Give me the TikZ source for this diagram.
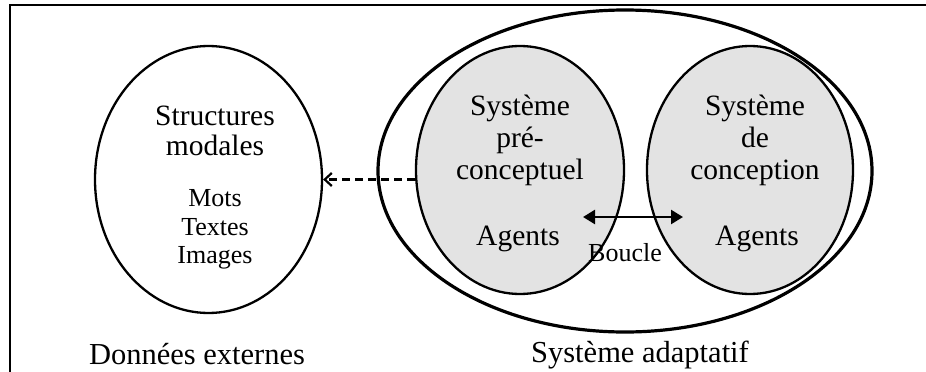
\documentclass[tikz,border=0pt]{standalone}
\usepackage{fontspec}
\setmainfont{Liberation Serif}
\usetikzlibrary{shapes.geometric,arrows.meta}
\definecolor{sysgrey}{RGB}{227,227,227}
\begin{document}
\begin{tikzpicture}[x=1pt,y=-1pt,
  oval/.style={ellipse,draw,inner sep=0pt,line width=2.3pt},
  sysoval/.style={oval,fill=sysgrey},
  lbl/.style={anchor=base,inner sep=0pt,font=\fontsize{29.5}{33}\selectfont},
  smalllbl/.style={lbl,font=\fontsize{26}{30}\selectfont},
  biglbl/.style={lbl,font=\fontsize{30.5}{34}\selectfont},
  filltip/.tip={Triangle[length=12pt,width=14pt]}]
\useasboundingbox (0,0) rectangle (926,372);
% frame
\draw[line width=2.6pt] (10,372) -- (10,5) -- (926,5);
% ellipses
\node[oval,minimum width=227pt,minimum height=267pt] (ext) at (208.5,179.5) {};
\node[oval,line width=3.2pt,minimum width=494pt,minimum height=322pt] (adapt) at (625,171) {};
\node[sysoval,minimum width=208pt,minimum height=248pt] (pre) at (520,170) {};
\node[sysoval,minimum width=206pt,minimum height=248pt] (conc) at (750,170) {};
% texts of left ellipse
\node[lbl] (t1) at (215,125) {Structures};
\node[lbl] (t2) at (215,155) {modales};
\node[smalllbl] (t3) at (215,206) {Mots};
\node[smalllbl] (t4) at (215,235) {Textes};
\node[smalllbl] (t5) at (215,263) {Images};
% texts of pre-conceptual system
\node[lbl] (p1) at (520,115) {Système};
\node[lbl] (p2) at (520,147) {pré-};
\node[lbl] (p3) at (520,179) {conceptuel};
\node[lbl] (p4) at (518,245) {Agents};
% texts of conception system
\node[lbl] (c1) at (755,115) {Système};
\node[lbl] (c2) at (755,147) {de};
\node[lbl] (c3) at (755,179) {conception};
\node[lbl] (c4) at (757,245) {Agents};
% loop
\node[smalllbl] (boucle) at (625,261) {Boucle};
\coordinate (la) at (583,217);
\coordinate (lb) at (683,217);
\draw[line width=2.5pt,filltip-filltip] (la) -- (lb);
% dashed arrow
\draw[line width=2.2pt,dash pattern=on 8pt off 5pt,-{Straight Barb[length=7pt,width=13pt]}]
  (pre.west |- ext.east) -- (ext.east);
% bottom labels
\node[biglbl] (d1) at (197,364) {Données externes};
\node[biglbl] (d2) at (640,362) {Système adaptatif};
\end{tikzpicture}
\end{document}
